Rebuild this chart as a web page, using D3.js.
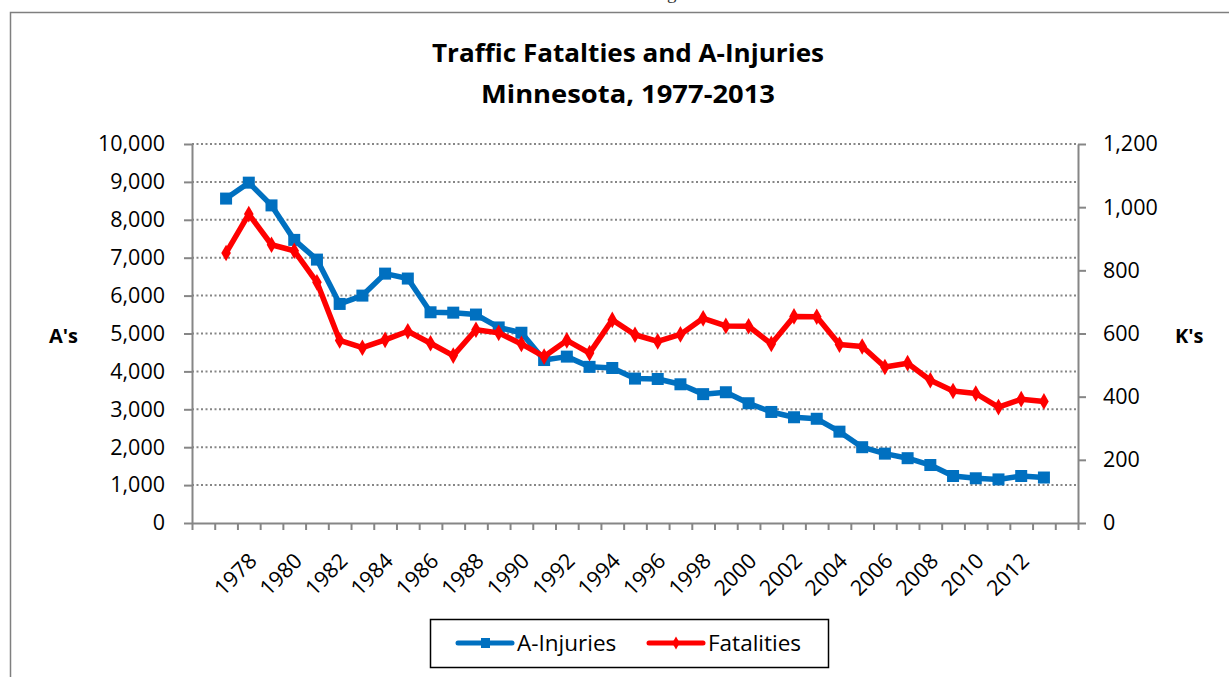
<!DOCTYPE html>
<html>
<head>
<meta charset="utf-8">
<script src="https://cdn.jsdelivr.net/npm/d3@7"></script>
<style>
  body { margin: 0; background: #fff; }
  svg { display: block; font-family: "Open Sans", Lato, sans-serif; font-variant-ligatures: none; }
</style>
</head>
<body>
<svg></svg>
<script>
// values
const years = [1977, 1978, 1979, 1980, 1981, 1982, 1983, 1984, 1985, 1986,
  1987, 1988, 1989, 1990, 1991, 1992, 1993, 1994, 1995, 1996,
  1997, 1998, 1999, 2000, 2001, 2002, 2003, 2004, 2005, 2006,
  2007, 2008, 2009, 2010, 2011, 2012, 2013]
const injuries = [8560, 8980, 8380, 7470, 6950, 5780, 6000, 6580, 6450, 5560,
  5550, 5500, 5160, 5020, 4300, 4390, 4120, 4090, 3810, 3800,
  3660, 3400, 3450, 3160, 2930, 2790, 2750, 2410, 2000, 1830,
  1710, 1530, 1240, 1180, 1150, 1240, 1200]
const fatalities = [855, 978, 881, 862, 762, 578, 555, 580, 607, 569,
  530, 612, 602, 567, 527, 578, 538, 643, 596, 575,
  597, 648, 624, 623, 567, 654, 653, 565, 559, 494,
  506, 452, 418, 410, 367, 392, 385]
const leftTicks = [0, 1000, 2000, 3000, 4000, 5000, 6000, 7000, 8000, 9000, 10000]
const rightTicks = [0, 200, 400, 600, 800, 1000, 1200]
const yearLabels = [1978, 1980, 1982, 1984, 1986, 1988, 1990, 1992, 1994,
  1996, 1998, 2000, 2002, 2004, 2006, 2008, 2010, 2012]
const seriesNames = ["A-Injuries", "Fatalities"]
const titleLines = ["Traffic Fatalties and A-Injuries", "Minnesota, 1977-2013"]

// basic parameters
const svgWidth = 1229
const svgHeight = 677
const plotLeft = 192
const plotRight = 1078
const plotTop = 144
const plotBottom = 523
const blue = "#0070c0"
const red = "#ff0000"
const axisGrey = "#868686"

var svg = d3.select("svg")
  .attr("width", svgWidth)
  .attr("height", svgHeight)

// cut off caption letter above the chart frame, as in the source
svg.append("text")
  .attr("x", 667)
  .attr("y", -1)
  .style("font-family", "'Liberation Serif', serif")
  .style("font-size", "19px")
  .attr("fill", "#333")
  .text("g")

// chart frame (runs off the page right and bottom)
svg.append("rect")
  .attr("x", 10.5)
  .attr("y", 12.5)
  .attr("width", 1400)
  .attr("height", 900)
  .attr("fill", "none")
  .attr("stroke", "#7f7f7f")
  .attr("stroke-width", 1.5)

// scales: one empty category each side of the years
var xScale = d3.scaleLinear()
  .domain([years[0] - 1.5, years[years.length - 1] + 1.5])
  .range([plotLeft, plotRight])
var yLeft = d3.scaleLinear().domain([0, 10000]).range([plotBottom, plotTop])
var yRight = d3.scaleLinear().domain([0, 1200]).range([plotBottom, plotTop])

// dotted gridlines
svg.append("g")
  .selectAll("line")
  .data(leftTicks.filter(d => d > 0))
  .enter()
  .append("line")
    .attr("x1", plotLeft)
    .attr("x2", plotRight)
    .attr("y1", d => yLeft(d))
    .attr("y2", d => yLeft(d))
    .attr("stroke", axisGrey)
    .attr("stroke-width", 2)
    .attr("stroke-dasharray", "2,2.5")

// axes
var leftAxis = d3.axisLeft(yLeft)
  .tickValues(leftTicks)
  .tickFormat(d3.format(","))
  .tickSize(8)
  .tickSizeOuter(0)
  .tickPadding(19)
var rightAxis = d3.axisRight(yRight)
  .tickValues(rightTicks)
  .tickFormat(d3.format(","))
  .tickSize(8)
  .tickSizeOuter(0)
  .tickPadding(17)
var boundaries = d3.range(years[0] - 1.5, years[years.length - 1] + 2, 1)
var bottomAxis = d3.axisBottom(xScale)
  .tickValues(boundaries)
  .tickFormat("")
  .tickSize(7)
  .tickSizeOuter(0)

svg.append("g")
  .attr("class", "axis")
  .attr("transform", "translate(" + plotLeft + ",0)")
  .call(leftAxis)
svg.append("g")
  .attr("class", "axis")
  .attr("transform", "translate(" + plotRight + ",0)")
  .call(rightAxis)
svg.append("g")
  .attr("class", "axis")
  .attr("transform", "translate(0," + plotBottom + ")")
  .call(bottomAxis)

svg.selectAll(".axis path, .axis line")
  .attr("stroke", axisGrey)
  .attr("stroke-width", 2)
svg.selectAll(".axis text")
  .attr("fill", "#000")
  .style("font-family", "'Open Sans', sans-serif")
  .style("font-size", "21.5px")

// rotated year labels
svg.append("g")
  .selectAll("text")
  .data(yearLabels)
  .enter()
  .append("text")
    .attr("transform", d => "translate(" + (xScale(d) + 4) + "," + (plotBottom + 34) + ") rotate(-45)")
    .attr("text-anchor", "end")
    .attr("dy", "0.35em")
    .style("font-size", "21.5px")
    .text(d => d)

// series lines
var lineLeft = d3.line().x((d, i) => xScale(years[i])).y(d => yLeft(d))
var lineRight = d3.line().x((d, i) => xScale(years[i])).y(d => yRight(d))

svg.append("path")
  .attr("d", lineLeft(injuries))
  .attr("fill", "none")
  .attr("stroke", blue)
  .attr("stroke-width", 5.5)
  .attr("stroke-linejoin", "round")

svg.append("g")
  .selectAll("rect")
  .data(injuries)
  .enter()
  .append("rect")
    .attr("x", (d, i) => xScale(years[i]) - 6)
    .attr("y", d => yLeft(d) - 6)
    .attr("width", 12)
    .attr("height", 12)
    .attr("fill", blue)

svg.append("path")
  .attr("d", lineRight(fatalities))
  .attr("fill", "none")
  .attr("stroke", red)
  .attr("stroke-width", 5.5)
  .attr("stroke-linejoin", "round")

var diamond = d3.symbol().type(d3.symbolDiamond).size(80)
svg.append("g")
  .selectAll("path")
  .data(fatalities)
  .enter()
  .append("path")
    .attr("d", diamond)
    .attr("transform", (d, i) => "translate(" + xScale(years[i]) + "," + yRight(d) + ")")
    .attr("fill", red)

// title, widths taken from the source
var titleWidths = [392, 294]
svg.append("g")
  .selectAll("text")
  .data(titleLines)
  .enter()
  .append("text")
    .attr("x", 628)
    .attr("y", (d, i) => 62 + i * 41)
    .attr("text-anchor", "middle")
    .attr("textLength", (d, i) => titleWidths[i])
    .attr("lengthAdjust", "spacingAndGlyphs")
    .style("font-size", "25px")
    .style("font-weight", "bold")
    .text(d => d)

// axis titles
svg.append("text")
  .attr("x", 49)
  .attr("y", 343)
  .style("font-size", "20px")
  .style("font-weight", "bold")
  .text("A's")
svg.append("text")
  .attr("x", 1175)
  .attr("y", 343)
  .style("font-size", "20px")
  .style("font-weight", "bold")
  .text("K's")

// legend
var legend = svg.append("g")
legend.append("rect")
  .attr("x", 430.5)
  .attr("y", 619.5)
  .attr("width", 398)
  .attr("height", 48)
  .attr("fill", "#fff")
  .attr("stroke", "#000")
  .attr("stroke-width", 1.5)

var legendX = [458, 649]
var legendColors = [blue, red]
seriesNames.forEach((name, i) => {
  legend.append("line")
    .attr("x1", legendX[i])
    .attr("x2", legendX[i] + 54)
    .attr("y1", 643)
    .attr("y2", 643)
    .attr("stroke", legendColors[i])
    .attr("stroke-width", 5)
    .attr("stroke-linecap", "round")
  if (i === 0) {
    legend.append("rect")
      .attr("x", legendX[i] + 23)
      .attr("y", 638)
      .attr("width", 9)
      .attr("height", 10)
      .attr("fill", blue)
  } else {
    legend.append("path")
      .attr("d", d3.symbol().type(d3.symbolDiamond).size(50))
      .attr("transform", "translate(" + (legendX[i] + 27) + ",643)")
      .attr("fill", red)
  }
  legend.append("text")
    .attr("x", legendX[i] + 59)
    .attr("y", 651)
    .style("font-size", "22.5px")
    .text(name)
})
</script>
</body>
</html>
